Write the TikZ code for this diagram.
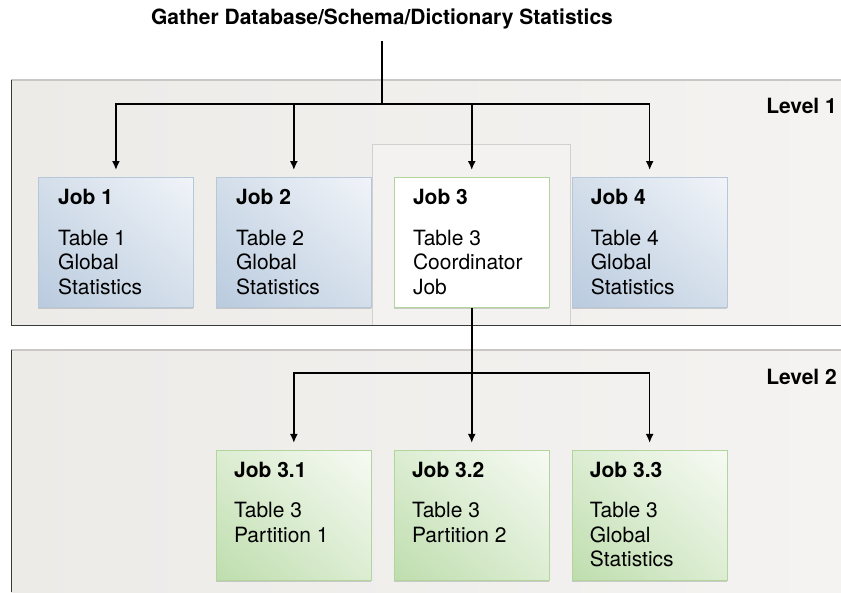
\documentclass[tikz,border=0pt]{standalone}
\usepackage{fontspec}
\setmainfont{TeX Gyre Heros}
\usetikzlibrary{arrows.meta, positioning, shadows, shadings}
\definecolor{bandfill}{HTML}{ECEBE8}
\definecolor{bandfilllight}{HTML}{F4F3F1}
\definecolor{bandtop}{HTML}{C9C7C4}
\definecolor{bandedge}{HTML}{3A3A3A}
\definecolor{blueedge}{HTML}{B6C7D9}
\definecolor{bluedark}{HTML}{BACBDF}
\definecolor{bluemid}{HTML}{D3DEEA}
\definecolor{bluelight}{HTML}{F1F4F9}
\definecolor{greenedge}{HTML}{B2D59E}
\definecolor{greendark}{HTML}{BEDDAD}
\definecolor{greenmid}{HTML}{DCEDD2}
\definecolor{greenlight}{HTML}{F7FAF4}
\definecolor{coordframe}{HTML}{D2D0CD}
\definecolor{coordfill}{HTML}{F3F2F0}

\begin{document}
\begin{tikzpicture}[
        x=1pt, y=1pt,
        jobbox/.style={
            draw,
            minimum width=155pt,
            minimum height=130pt,
            inner sep=0pt,
            line width=0.9pt,
            drop shadow={shadow xshift=0pt, shadow yshift=-1.2pt, opacity=0.35}
        },
        bluejob/.style={
            jobbox,
            draw=blueedge,
            lower left=bluedark,
            upper left=bluemid,
            lower right=bluemid,
            upper right=bluelight
        },
        greenjob/.style={
            jobbox,
            draw=greenedge,
            lower left=greendark,
            upper left=greenmid,
            lower right=greenmid,
            upper right=greenlight
        },
        coordjob/.style={
            jobbox,
            draw=greenedge,
            fill=white
        },
        jobtext/.style={
            anchor=north west,
            inner sep=0pt,
            align=left,
            font=\fontsize{21}{24.5}\selectfont
        },
        headtext/.style={
            inner sep=0pt,
            font=\fontsize{21}{24.5}\selectfont\bfseries
        },
        busline/.style={
            line width=1.6pt,
            black
        },
        flowarrow/.style={
            busline,
            -{Latex[length=9pt, width=8pt]}
        }
    ]

        \useasboundingbox (0,0) rectangle (841,-592);

        % ---------------------------------------------------------------------
        % Level bands
        % ---------------------------------------------------------------------

        \fill[left color=bandfill, right color=bandfilllight]
            (11,-80) rectangle (841,-325);

        \fill[left color=bandfill, right color=bandfilllight]
            (11,-350) rectangle (841,-592);

        % Frame round the coordinator job
        \draw[coordframe, fill=coordfill, line width=0.8pt]
            (372,-144) rectangle (570,-325);

        \draw[bandtop, line width=1.2pt] (11,-80) -- (841,-80);
        \draw[bandedge, line width=1pt] (11,-80) -- (11,-325) -- (841,-325);

        \draw[bandtop, line width=1.2pt] (11,-350) -- (841,-350);
        \draw[bandedge, line width=1pt] (11,-350) -- (11,-592);

        \node[headtext, anchor=east] (level1) at (837,-106) {Level 1};
        \node[headtext, anchor=east] (level2) at (837,-377) {Level 2};


        % ---------------------------------------------------------------------
        % Level 1: one job per table
        % ---------------------------------------------------------------------

        \node[bluejob, anchor=north west] (job1) at (38,-177) {};

        \node[
            bluejob,
            right=22pt of job1
        ] (job2) {};

        \node[
            coordjob,
            right=22pt of job2
        ] (job3) {};

        \node[
            bluejob,
            right=22pt of job3
        ] (job4) {};

        \node[jobtext] (job1txt) at ([xshift=20pt, yshift=-12pt]job1.north west)
            {\textbf{Job 1}\\[16pt]Table 1\\Global\\Statistics};

        \node[jobtext] (job2txt) at ([xshift=20pt, yshift=-12pt]job2.north west)
            {\textbf{Job 2}\\[16pt]Table 2\\Global\\Statistics};

        \node[jobtext] (job3txt) at ([xshift=19pt, yshift=-12pt]job3.north west)
            {\textbf{Job 3}\\[16pt]Table 3\\Coordinator\\Job};

        \node[jobtext] (job4txt) at ([xshift=19pt, yshift=-12pt]job4.north west)
            {\textbf{Job 4}\\[16pt]Table 4\\Global\\Statistics};


        % ---------------------------------------------------------------------
        % Level 2: partition jobs started by the coordinator
        % ---------------------------------------------------------------------

        \node[
            greenjob,
            below=142pt of job3
        ] (job32) {};

        \node[
            greenjob,
            left=22pt of job32
        ] (job31) {};

        \node[
            greenjob,
            right=22pt of job32
        ] (job33) {};

        \node[jobtext] (job31txt) at ([xshift=18pt, yshift=-12pt]job31.north west)
            {\textbf{Job 3.1}\\[16pt]Table 3\\Partition 1};

        \node[jobtext] (job32txt) at ([xshift=18pt, yshift=-12pt]job32.north west)
            {\textbf{Job 3.2}\\[16pt]Table 3\\Partition 2};

        \node[jobtext] (job33txt) at ([xshift=18pt, yshift=-12pt]job33.north west)
            {\textbf{Job 3.3}\\[16pt]Table 3\\Global\\Statistics};


        % ---------------------------------------------------------------------
        % Title and connectors
        % ---------------------------------------------------------------------

        \node[headtext] (gather) at (382,-19)
            {Gather Database/Schema/Dictionary Statistics};

        \coordinate (bus1) at (382,-104);
        \coordinate (level2bus) at (0,-373);
        \coordinate (bus2) at (job3.south |- level2bus);

        \draw[busline]
            (gather.south) ++(0,-12) -- (bus1);

        \foreach \job in {job1, job2, job3, job4}
            \draw[flowarrow] (bus1) -| ([yshift=7pt]\job.north);

        \draw[flowarrow]
            (job3.south) -- ([yshift=7pt]job32.north);

        \foreach \job in {job31, job33}
            \draw[flowarrow] (bus2) -| ([yshift=7pt]\job.north);

    \end{tikzpicture}
\end{document}
